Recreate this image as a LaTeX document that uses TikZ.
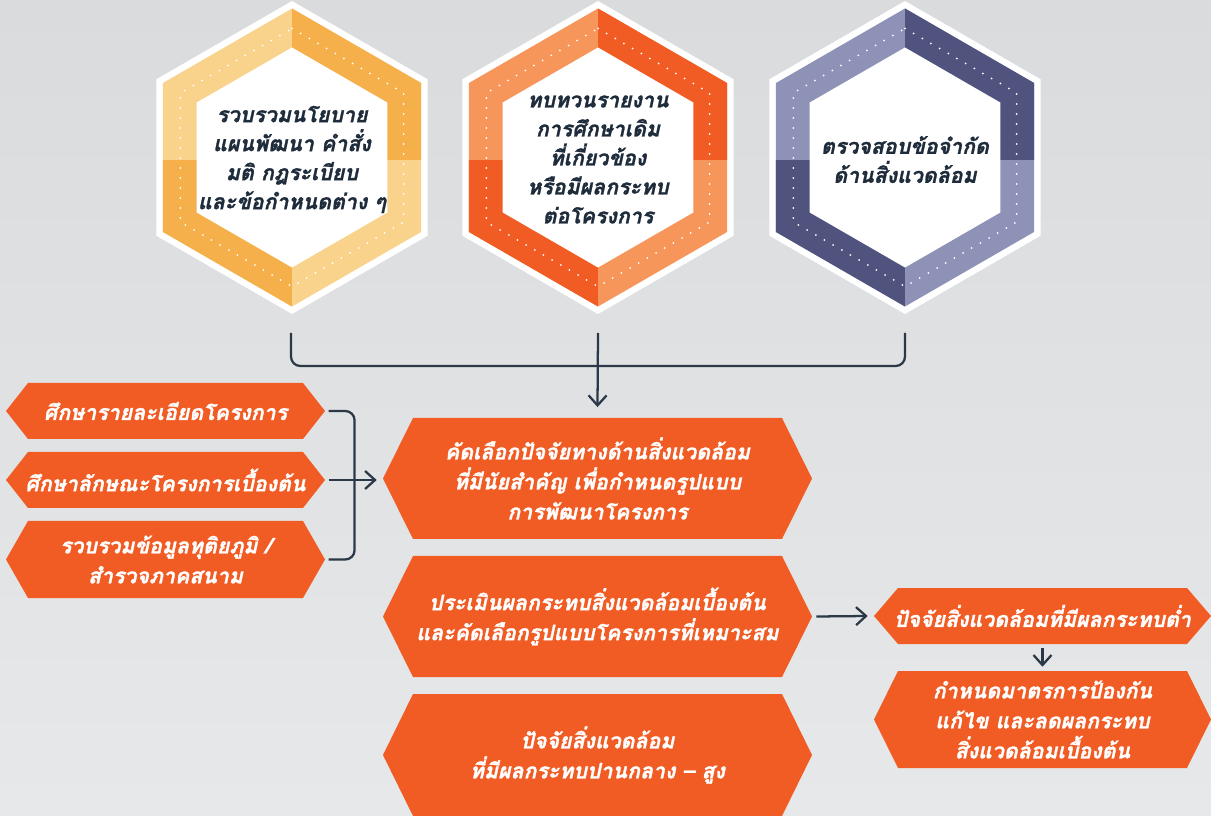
\documentclass[tikz,border=0pt]{standalone}
\usepackage{fontspec}
\newfontfamily\thaifont[Script=Thai, BoldItalicFeatures={FakeBold=1.2}]{Loma}
\usetikzlibrary{arrows.meta}

\definecolor{bgtop}{HTML}{DADBDD}
\definecolor{bgbot}{HTML}{E7E8EA}
\definecolor{ink}{HTML}{1D2B3B}
\definecolor{linecol}{HTML}{2A3848}
\definecolor{boxorange}{HTML}{F15C24}
\definecolor{yelL}{HTML}{F9D38C}
\definecolor{yelD}{HTML}{F5AF4B}
\definecolor{orgL}{HTML}{F7965B}
\definecolor{orgD}{HTML}{F15C24}
\definecolor{purL}{HTML}{8F92B7}
\definecolor{purD}{HTML}{51537F}

% pointy-top hexagon: options, centre x, centre y, circumradius (px)
\newcommand\hexshape[4]{%
  \path[#1] (#2,{#3-#4}) -- ({#2+0.8660*#4},{#3-0.5*#4})
    -- ({#2+0.8660*#4},{#3+0.5*#4}) -- (#2,{#3+#4})
    -- ({#2-0.8660*#4},{#3+0.5*#4}) -- ({#2-0.8660*#4},{#3-0.5*#4}) -- cycle;}

% hexagonal badge with two-tone ring: name, cx, cy, light, dark, text
\newcommand\hexbadge[6]{%
  \hexshape{fill=white}{#2}{#3}{156.5}
  \hexshape{fill=#4}{#2}{#3}{149}
  \begin{scope}
    \hexshape{clip}{#2}{#3}{149}
    \fill[#5] (#2,{#3+3}) rectangle ++(160,-163);
    \fill[#5] (#2,{#3+3}) rectangle ++(-160,160);
  \end{scope}
  \hexshape{fill=white}{#2}{#3}{110}
  \hexshape{dotring}{#2}{#3}{129}
  \node[hextext] (#1) at (#2,{#3+2}) {#6};}

% elongated hexagonal tag: name, left x, right x, top y, bottom y, point depth, text
\newcommand\tagbox[7]{%
  \fill[boxorange] (#2,{(#4+#5)/2}) -- ({#2+#6},#4) -- ({#3-#6},#4)
    -- (#3,{(#4+#5)/2}) -- ({#3-#6},#5) -- ({#2+#6},#5) -- cycle;
  \node[boxtext, minimum width={0.75pt*(#3-#2)}, minimum height={0.75pt*(#5-#4)}]
    (#1) at ({(#2+#3)/2},{(#4+#5)/2}) {#7};}

\tikzset{
  hextext/.style={font=\thaifont\bfseries\itshape\fontsize{16}{21.75}\selectfont,
    text=ink, align=center, inner sep=0pt},
  boxtext/.style={font=\thaifont\bfseries\itshape\fontsize{16}{22.5}\selectfont,
    text=white, align=center, inner sep=0pt},
  dotring/.style={draw=white, line width=1.5pt, line cap=round,
    dash pattern=on 0pt off 7.5pt},
  conn/.style={draw=linecol, line width=1.7pt},
  arrow/.style={conn, -{Straight Barb[length=7.5pt, width=13.5pt, line width=1.7pt]}},
}

\begin{document}
\begin{tikzpicture}[x=0.75pt, y=-0.75pt]
  \useasboundingbox (0,0) rectangle (1211,816);
  \shade[top color=bgtop, bottom color=bgbot] (0,0) rectangle (1211,816);

  % three input hexagons
  \hexbadge{h1}{292}{157.5}{yelL}{yelD}{รวบรวมนโยบาย\\แผนพัฒนา คำสั่ง\\มติ กฎระเบียบ\\และข้อกำหนดต่าง ๆ}
  \hexbadge{h2}{598}{157.5}{orgL}{orgD}{ทบทวนรายงาน\\การศึกษาเดิม\\ที่เกี่ยวข้อง\\หรือมีผลกระทบ\\ต่อโครงการ}
  \hexbadge{h3}{905}{157.5}{purL}{purD}{ตรวจสอบข้อจำกัด\\ด้านสิ่งแวดล้อม}

  % left column
  \tagbox{L1}{6}{325}{383}{439}{22}{ศึกษารายละเอียดโครงการ}
  \tagbox{L2}{6}{325}{452}{508}{22}{ศึกษาลักษณะโครงการเบื้องต้น}
  \tagbox{L3}{6}{325}{521}{598}{22}{รวบรวมข้อมูลทุติยภูมิ /\\สำรวจภาคสนาม}

  % centre column
  \tagbox{A}{383}{812}{418}{539}{30}{คัดเลือกปัจจัยทางด้านสิ่งแวดล้อม\\ที่มีนัยสำคัญ เพื่อกำหนดรูปแบบ\\การพัฒนาโครงการ}
  \tagbox{B}{383}{812}{556}{677}{30}{ประเมินผลกระทบสิ่งแวดล้อมเบื้องต้น\\และคัดเลือกรูปแบบโครงการที่เหมาะสม}
  \tagbox{C}{383}{812}{694}{816}{30}{ปัจจัยสิ่งแวดล้อม\\ที่มีผลกระทบปานกลาง – สูง}

  % right column
  \tagbox{R1}{874}{1211}{588}{644}{24}{ปัจจัยสิ่งแวดล้อมที่มีผลกระทบต่ำ}
  \tagbox{R2}{874}{1211}{671}{768}{24}{กำหนดมาตรการป้องกัน\\แก้ไข และลดผลกระทบ\\สิ่งแวดล้อมเบื้องต้น}

  % bracket joining the hexagons
  \coordinate (t1) at (291,333);
  \coordinate (t2) at (598,333);
  \coordinate (t3) at (905,333);
  \draw[conn, rounded corners=7pt] (t1) -- ++(0,33) -| (t3);
  \draw[arrow] (t2) -- ([yshift=8pt]A.north);

  % bracket joining the left column
  \draw[conn, rounded corners=7pt] ([xshift=2.5pt]L1.east) -- ++(26,0) |- ([xshift=2.5pt]L3.east);
  \draw[arrow] ([xshift=2.5pt]L2.east) -- ([xshift=-4.5pt]A.west |- L2.east);

  % flow to the right column
  \draw[arrow] ([xshift=3pt]B.east) -- ([xshift=-4.5pt]R1.west);
  \draw[arrow] ([yshift=-3pt]R1.south) -- ([yshift=3pt]R2.north);
\end{tikzpicture}
\end{document}
